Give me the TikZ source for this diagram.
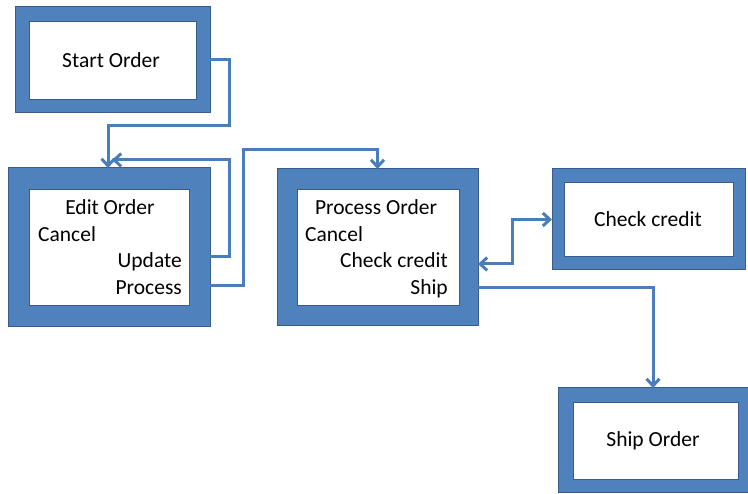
\documentclass[tikz,border=0pt]{standalone}
\usepackage{fontspec}
\setmainfont{Carlito}
\usetikzlibrary{arrows.meta}
\definecolor{boxblue}{HTML}{4F81BD}
\definecolor{edgeblue}{HTML}{385D8A}
\definecolor{lineblue}{HTML}{4A7EBB}
\begin{document}
\begin{tikzpicture}[x=1pt,y=-1pt,
  outerbox/.style={draw=edgeblue,line width=1pt,fill=boxblue,inner sep=0pt,outer sep=0pt},
  innerbox/.style={draw=edgeblue,line width=1pt,fill=white,inner sep=0pt,outer sep=0pt},
  lbl/.style={inner sep=0pt,font=\fontsize{21.5}{26}\selectfont},
  conn/.style={draw=lineblue,line width=3pt},
  tip/.style={-{Straight Barb[length=7pt,width=13pt]}}
]
\useasboundingbox[fill=white] (0,0) rectangle (748,494);
% Start Order
\node[outerbox,minimum width=195pt,minimum height=106pt] (start) at (112.5,60) {};
\node[innerbox,minimum width=167pt,minimum height=78pt] (startin) at (112.5,61) {};
\node[lbl,anchor=base] (startt) at (111,68) {Start Order};
% Edit Order
\node[outerbox,minimum width=202pt,minimum height=159pt] (edit) at (109,247.5) {};
\node[innerbox,minimum width=160pt,minimum height=116pt] (editin) at (109,248) {};
\node[lbl,anchor=base] (e1) at (110,215) {Edit Order};
\node[lbl,anchor=base west] (e2) at (38,242) {Cancel};
\node[lbl,anchor=base east] (e3) at (182,268) {Update};
\node[lbl,anchor=base east] (e4) at (182,295) {Process};
% Process Order
\node[outerbox,minimum width=201pt,minimum height=157pt] (proc) at (377.5,247.5) {};
\node[innerbox,minimum width=162pt,minimum height=116pt] (procin) at (378,248) {};
\node[lbl,anchor=base] (p1) at (376,215) {Process Order};
\node[lbl,anchor=base west] (p2) at (305,242) {Cancel};
\node[lbl,anchor=base east] (p3) at (448,268) {Check credit};
\node[lbl,anchor=base east] (p4) at (448,295) {Ship};
% Check credit
\node[outerbox,minimum width=193pt,minimum height=101pt] (check) at (648.5,219.5) {};
\node[innerbox,minimum width=169pt,minimum height=74pt] (checkin) at (648.5,220) {};
\node[lbl,anchor=base] (checkt) at (648,227) {Check credit};
% Ship Order
\node[outerbox,minimum width=190pt,minimum height=105pt] (ship) at (653,440.5) {};
\node[innerbox,minimum width=165pt,minimum height=77pt] (shipin) at (655.5,441.5) {};
\node[lbl,anchor=base] (shipt) at (653,447) {Ship Order};
% connectors
\coordinate (loopend) at (112,160);
\draw[conn,tip] (start.east) -- (229,60) -- (229,126) -- (108,126) -- (108,168);
\draw[conn,tip] ([yshift=-9.5pt]edit.east) -- (229,257) -- (229,160) -- (loopend);
\draw[conn,tip] ([yshift=-38.5pt]edit.east) -- (243,286) -- (243,150) -- (377.5,150) -- (proc.north);
\draw[conn,{Straight Barb[length=7pt,width=13pt]}-{Straight Barb[length=7pt,width=13pt]}] ([yshift=-16.5pt]proc.east) -- (512,264) -- (512,219.5) -- (check.west);
\draw[conn,tip] ([yshift=-40.5pt]proc.east) -| (ship.north);
\end{tikzpicture}
\end{document}
